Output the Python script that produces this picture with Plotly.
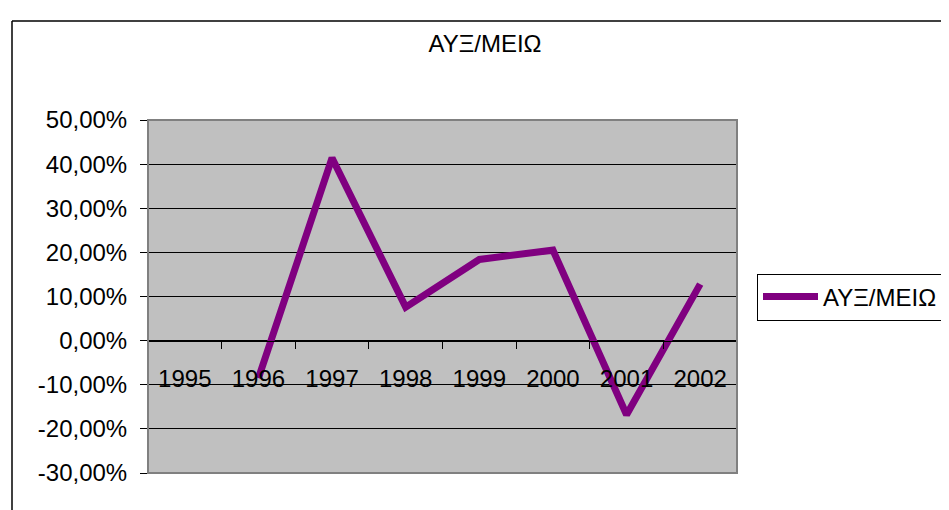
import plotly.graph_objects as go

years = ["1995", "1996", "1997", "1998", "1999", "2000", "2001", "2002"]
values = [None, -8.5, 41.4, 7.6, 18.4, 20.5, -16.8, 12.8]
series_name = "ΑΥΞ/ΜΕΙΩ"
title_text = "ΑΥΞ/ΜΕΙΩ"
y_tickvals = [-30, -20, -10, 0, 10, 20, 30, 40, 50]
y_ticktext = ["-30,00%", "-20,00%", "-10,00%", "0,00%", "10,00%", "20,00%", "30,00%", "40,00%", "50,00%"]

OFF = 8  # default page body margin
W, H = 949 - OFF, 510 - OFF
L, R, T, B = 148 - OFF, 737 - OFF, 120 - OFF, 473 - OFF
pw, ph = R - L, B - T

def px_x(x):
    return (x - OFF - L) / pw

def px_y(y):
    return (B - (y - OFF)) / ph

FONT = "Liberation Sans, Arial, sans-serif"

fig = go.Figure()
fig.add_trace(go.Scatter(
    x=years, y=values, mode="lines", name=series_name,
    line=dict(color="#800080", width=7),
    connectgaps=False,
))

fig.update_layout(
    width=W, height=H,
    margin=dict(l=L, r=W - R, t=T, b=H - B, pad=0, autoexpand=False),
    paper_bgcolor="white",
    plot_bgcolor="#C0C0C0",
    font=dict(family=FONT, size=24, color="black"),
    title=dict(text=title_text, x=(485 - OFF) / W, xanchor="center",
               y=1 - (44 - OFF) / H, yanchor="middle",
               font=dict(family=FONT, size=24, color="black")),
    showlegend=True,
    legend=dict(x=px_x(757), xanchor="left", y=px_y(297), yanchor="middle",
                orientation="h", entrywidth=210, entrywidthmode="pixels",
                bordercolor="black", borderwidth=1, bgcolor="white",
                itemwidth=55,
                font=dict(family=FONT, size=24, color="black")),
    xaxis=dict(
        type="category",
        anchor="free", position=30 / 80,
        showline=True, linecolor="black", linewidth=1,
        ticks="outside", ticklen=7, tickcolor="black", tickwidth=1,
        tickson="boundaries",
        showgrid=False, zeroline=False,
        tickangle=0,
        ticklabelstandoff=17,
        tickfont=dict(family=FONT, size=24, color="black"),
        range=[-0.5, 7.5],
    ),
    yaxis=dict(
        range=[-30, 50],
        tickvals=y_tickvals, ticktext=y_ticktext,
        showline=True, linecolor="black", linewidth=1,
        ticks="outside", ticklen=7, tickcolor="black", tickwidth=1,
        showgrid=True, gridcolor="black", gridwidth=1,
        zeroline=False,
        ticklabelstandoff=8,
        tickfont=dict(family=FONT, size=24, color="black"),
    ),
    shapes=[
        dict(type="rect", xref="paper", yref="paper", x0=0, x1=1, y0=0, y1=1,
             line=dict(color="#808080", width=2), layer="above"),
        dict(type="line", xref="paper", yref="paper",
             x0=px_x(12), x1=px_x(960), y0=px_y(21), y1=px_y(21),
             line=dict(color="black", width=1.5)),
        dict(type="line", xref="paper", yref="paper",
             x0=px_x(12), x1=px_x(12), y0=px_y(21), y1=px_y(520),
             line=dict(color="black", width=1.5)),
    ],
)

fig.write_html("out.html")
